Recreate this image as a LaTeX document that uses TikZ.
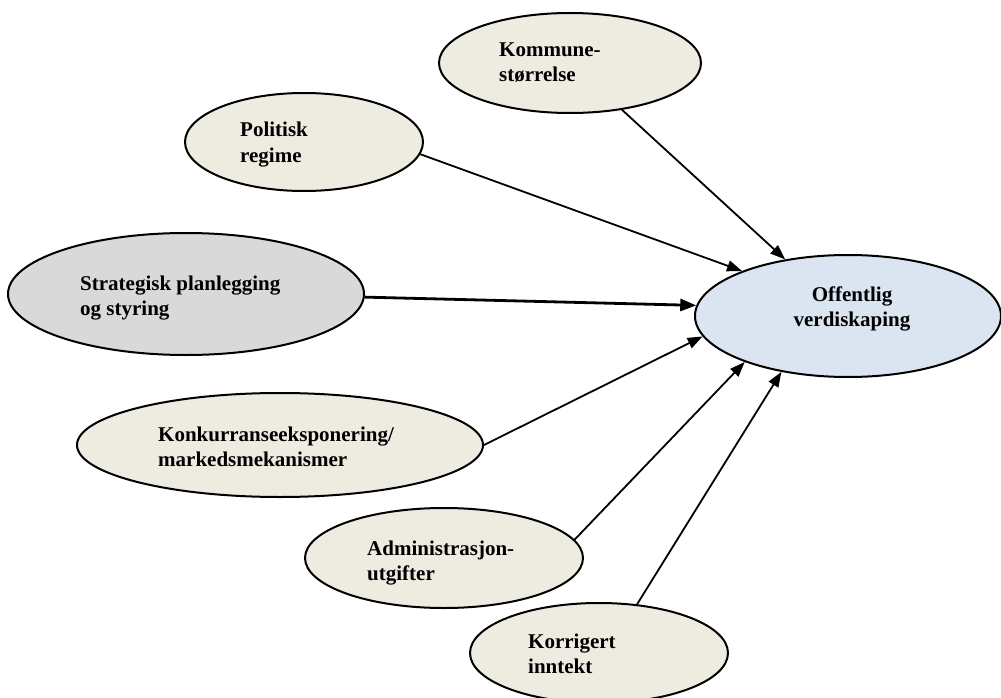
\documentclass[tikz,border=0pt]{standalone}
\usepackage{fontspec}
\setmainfont{Liberation Serif}
\usetikzlibrary{shapes.geometric,arrows.meta}
\definecolor{beige}{HTML}{EEECE1}
\definecolor{grayfill}{HTML}{D9D9D9}
\definecolor{bluefill}{HTML}{DBE5F1}
\tikzset{
  oval/.style={ellipse,draw=black,line width=2pt,fill=beige,inner sep=0pt},
  lbl/.style={anchor=base west,align=left,inner sep=0pt,font=\fontsize{21}{25}\selectfont\bfseries},
  conn/.style={line width=1.8pt,-{Triangle[length=15pt,width=11pt]}},
}
\begin{document}
\begin{tikzpicture}[x=1pt,y=-1pt]
\useasboundingbox (0,0) rectangle (1001,698);
% ellipses
\node[oval,minimum width=262pt,minimum height=100pt] (kom) at (570,63) {};
\node[oval,minimum width=238pt,minimum height=98pt] (pol) at (304,142) {};
\node[oval,fill=grayfill,minimum width=356pt,minimum height=122pt] (str) at (186,294) {};
\node[oval,fill=bluefill,minimum width=306pt,minimum height=122pt] (off) at (848,316) {};
\node[oval,minimum width=406pt,minimum height=104pt] (kon) at (280,445) {};
\node[oval,minimum width=278pt,minimum height=100pt] (adm) at (444,558) {};
\node[oval,minimum width=258pt,minimum height=100pt] (kor) at (599,653) {};
% labels (anchor = baseline of last line)
\node[lbl] (tkom) at (499,82) {Kommune-\\størrelse};
\node[lbl] (tpol) at (240,162) {Politisk\\regime};
\node[lbl] (tstr) at (80,315) {Strategisk planlegging\\og styring};
\node[lbl,align=center,anchor=base] (toff) at (852,326) {Offentlig\\verdiskaping};
\node[lbl] (tkon) at (158,466) {Konkurranseeksponering/\\markedsmekanismer};
\node[lbl] (tadm) at (367,580) {Administrasjon-\\utgifter};
\node[lbl] (tkor) at (528,673) {Korrigert\\inntekt};
% connectors
\draw[conn] (kom.-42) -- (off.138);
\draw[conn] (pol.-6) -- (off.157.6);
\draw[conn,line width=2.8pt,-{Triangle[length=16pt,width=12pt]}] (str.-1) -- (off.176.7);
\draw[conn] (kon.0) -- (off.-172.5);
\draw[conn] (adm.8.8) -- (off.-156.3);
\draw[conn] (kor.52.6) -- (off.-140.3);
\end{tikzpicture}
\end{document}
